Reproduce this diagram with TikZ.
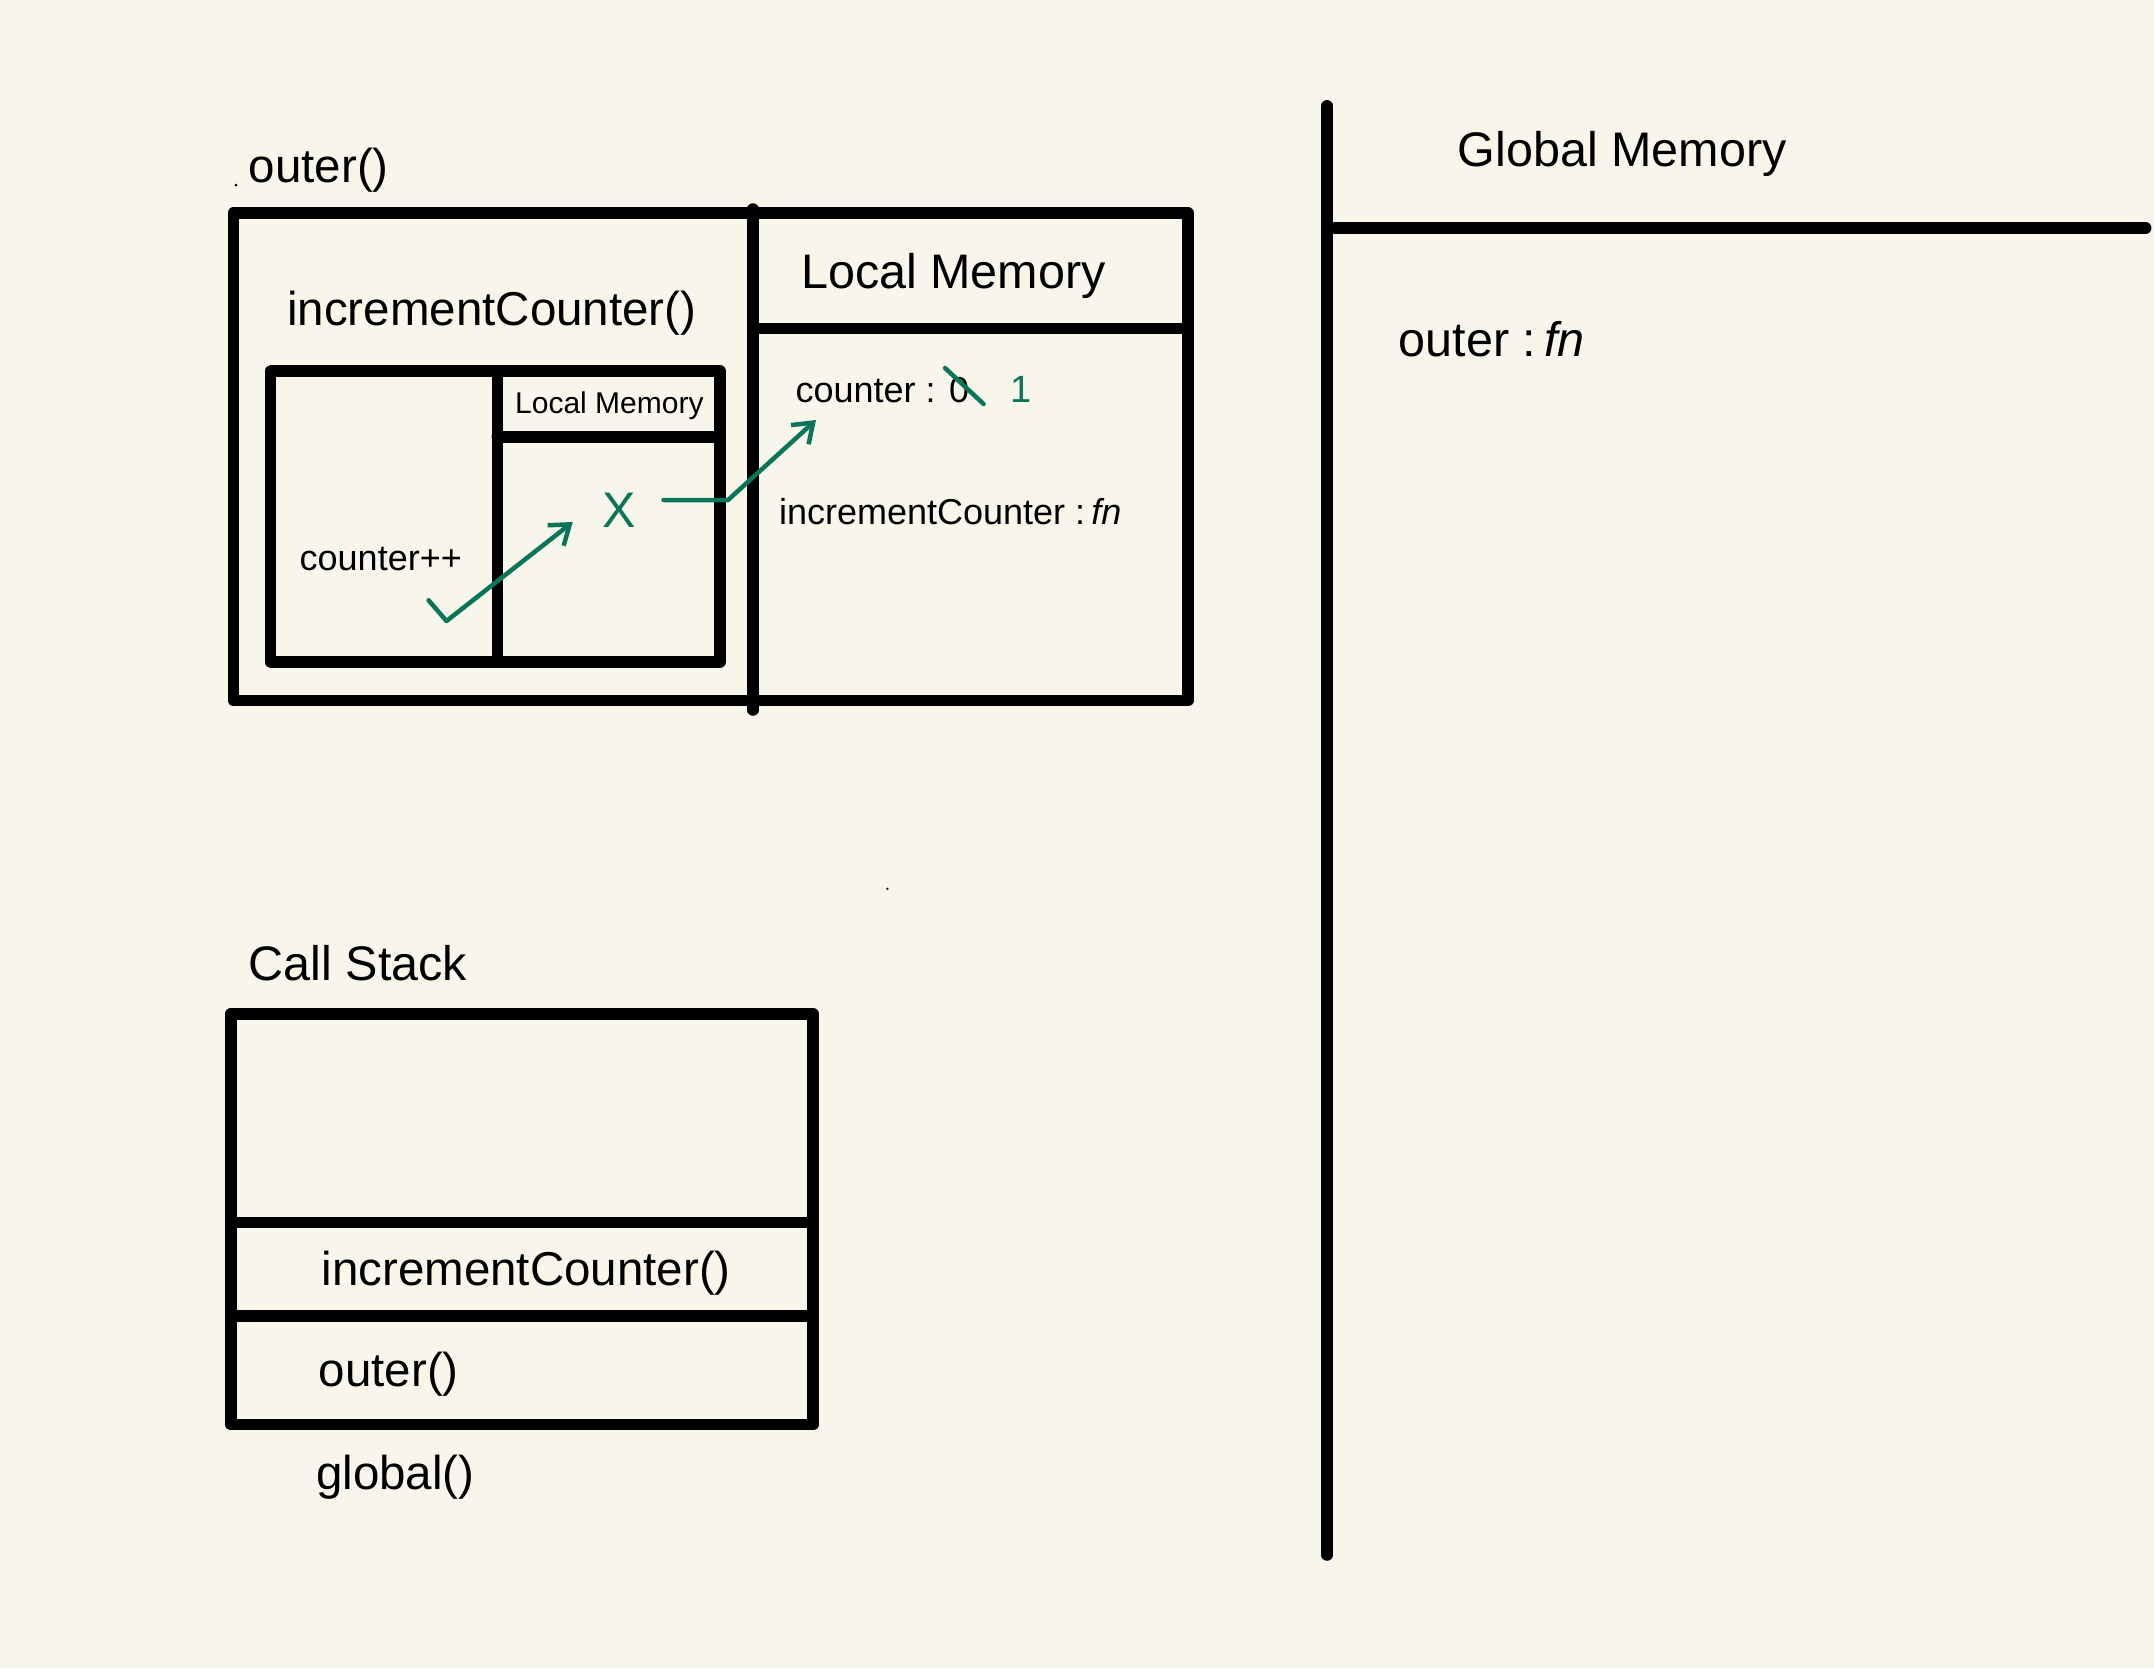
\documentclass[tikz,border=0pt]{standalone}
\usepackage{fontspec}
\setmainfont{Liberation Sans}
\usetikzlibrary{arrows.meta}
\definecolor{bg}{RGB}{248,246,235}
\definecolor{grn}{RGB}{10,117,88}
\tikzset{
  heavy/.style={line width=11.5pt, line cap=round, line join=round, black},
  gline/.style={line width=4.5pt, line cap=round, line join=round, grn},
  garrow/.style={gline, -{Straight Barb[length=18pt, width=26pt, line width=4.5pt]}},
  bigtxt/.style={font=\fontsize{47.5}{57}\selectfont, anchor=west, inner sep=0pt},
  lgtxt/.style={font=\fontsize{48.5}{58}\selectfont, anchor=west, inner sep=0pt},
  midtxt/.style={font=\fontsize{36}{43}\selectfont, anchor=west, inner sep=0pt},
  smalltxt/.style={font=\fontsize{30}{36}\selectfont, anchor=west, inner sep=0pt},
}
\begin{document}
\begin{tikzpicture}[x=1pt, y=-1pt]
  \fill[bg] (0,0) rectangle (2154,1668);
  \useasboundingbox (0,0) rectangle (2154,1668);

  % outer() frame
  \node[bigtxt] (outerlbl) at (248.6,170.5) {outer()};
  \fill (236,185) circle (1.5pt);
  \draw[heavy] (233.5,213) rectangle (1188,700.6);
  \draw[heavy] (752.8,209) -- (752.8,710);
  \draw[heavy] (752.8,328.3) -- (1188,328.3);
  \node[lgtxt] (lmbig) at (801,276) {Local Memory};
  \node[bigtxt] (inclbl) at (287,313.5) {incrementCounter()};

  % incrementCounter() frame
  \draw[heavy] (270.6,371) rectangle (719.8,662);
  \draw[heavy] (497.3,371) -- (497.3,662);
  \draw[heavy] (497.3,436.8) -- (719.8,436.8);
  \node[smalltxt] (lmsmall) at (515,405.5) {Local Memory};
  \node[midtxt] (cpp) at (299.5,559.5) {counter++};
  \node[font=\fontsize{50}{60}\selectfont, text=grn, inner sep=0pt] (xmark) at (619.5,510.5) {X};

  % outer local memory entries
  \node[midtxt] (ctr) at (795.4,390) {counter : 0};
  \node[font=\fontsize{38}{46}\selectfont, text=grn, inner sep=0pt] (one) at (1020.7,389) {1};
  \node[midtxt] (incfn) at (778.9,511.5) {incrementCounter :\,\textit{fn}};

  % green strokes
  \coordinate (s1) at (945,368);
  \coordinate (s2) at (983.6,404);
  \draw[gline] (s1) -- (s2);
  \coordinate (c1) at (428.6,600.3);
  \coordinate (c2) at (446.5,621);
  \coordinate (c3) at (572.8,522);
  \draw[garrow] (c1) -- (c2) -- (c3);
  \coordinate (g1) at (663.5,500);
  \coordinate (g2) at (728,500);
  \coordinate (g3) at (816,420);
  \draw[garrow] (g1) -- (g2) -- (g3);

  \fill (887.4,888.8) circle (1.3pt);

  % call stack
  \node[lgtxt] (cslbl) at (248.6,963) {Call Stack};
  \draw[heavy] (230.8,1013.8) rectangle (813.2,1424.5);
  \draw[heavy] (230.8,1222.6) -- (813.2,1222.6);
  \draw[heavy] (230.8,1316) -- (813.2,1316);
  \node[bigtxt] (csinc) at (321.4,1273.5) {incrementCounter()};
  \node[bigtxt] (csouter) at (318.7,1374) {outer()};
  \node[bigtxt] (csglobal) at (316,1477) {global()};

  % global memory
  \draw[heavy] (1327,105.8) -- (1327,1555);
  \draw[heavy] (1335,228) -- (2145.7,228);
  \node[lgtxt] (gmlbl) at (1457.5,154) {Global Memory};
  \node[lgtxt] (outerfn) at (1398.5,339) {outer :\,\textit{fn}};
\end{tikzpicture}
\end{document}
